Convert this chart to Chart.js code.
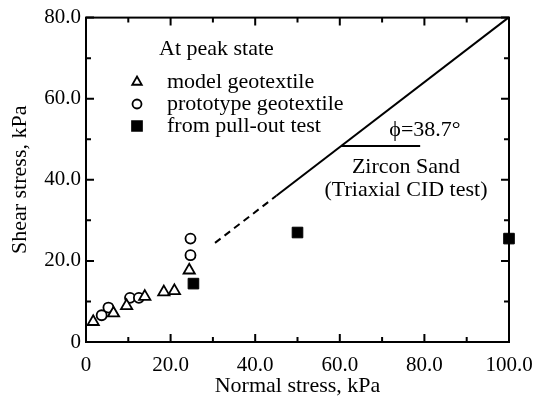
<!DOCTYPE html>
<html>
<head>
<meta charset="utf-8">
<script src="https://cdn.jsdelivr.net/npm/chart.js@4.4.0/dist/chart.umd.min.js"></script>
<style>
  html, body { margin: 0; padding: 0; background: #fff; }
  #wrap { width: 549px; height: 399px; }
</style>
</head>
<body>
<div id="wrap"><canvas id="shearChart"></canvas></div>
<script>
// Peak shear strength data (normal stress kPa, shear stress kPa)
const modelX = [1.7, 6.5, 9.6, 13.9, 18.4, 20.9, 24.4];
const modelY = [5.0, 7.1, 8.9, 11.2, 12.3, 12.6, 17.7];
const protoX = [3.7, 5.3, 10.4, 12.5, 24.7, 24.7];
const protoY = [6.6, 8.5, 10.9, 10.9, 21.4, 25.5];
const pullX = [25.4, 50.0, 100.0];
const pullY = [14.4, 27.0, 25.5];

// Zircon sand failure envelope, phi = 38.7 deg
const phi = 38.7;
const envDashX = [30.5, 45.0];
const envSolidX = [45.0, 100.0];
const phiMarkX = [60.3, 79.0];

const xTicks = [0, 20, 40, 60, 80, 100];
const yTicks = [0, 20, 40, 60, 80];

const tanPhi = Math.tan(phi * Math.PI / 180);
const pts = (xs, ys) => xs.map((x, i) => ({ x: x, y: ys[i] }));
const envelope = xs => xs.map(x => ({ x: x, y: x * tanPhi }));

const FONT = '"Liberation Serif", "DejaVu Serif", serif';

// frame, inward ticks on all four sides, legend block and annotations
const decorPlugin = {
    id: 'decor',
    afterDraw(chart) {
        const ctx = chart.ctx;
        const xs = chart.scales.x, ys = chart.scales.y;
        const a = chart.chartArea;
        ctx.save();
        ctx.strokeStyle = '#000';
        ctx.lineWidth = 2;
        ctx.strokeRect(a.left, a.top, a.right - a.left, a.bottom - a.top);
        for (let v = 0; v <= 100; v += 10) {
            const px = xs.getPixelForValue(v);
            const len = v % 20 === 0 ? 8 : 5;
            ctx.beginPath();
            ctx.moveTo(px, a.bottom); ctx.lineTo(px, a.bottom - len);
            ctx.moveTo(px, a.top); ctx.lineTo(px, a.top + len);
            ctx.stroke();
        }
        for (let v = 0; v <= 80; v += 10) {
            const py = ys.getPixelForValue(v);
            const len = v % 20 === 0 ? 8 : 5;
            ctx.beginPath();
            ctx.moveTo(a.left, py); ctx.lineTo(a.left + len, py);
            ctx.moveTo(a.right, py); ctx.lineTo(a.right - len, py);
            ctx.stroke();
        }

        // legend
        ctx.fillStyle = '#000';
        ctx.font = '22px ' + FONT;
        ctx.textBaseline = 'middle';
        ctx.textAlign = 'left';
        ctx.fillText('At peak state', 159, 49);
        const items = ['model geotextile', 'prototype geotextile', 'from pull-out test'];
        const styles = ['triangle', 'circle', 'rect'];
        const radii = [5.5, 4.5, 7];
        items.forEach((t, i) => {
            const y = 82 + i * 22;
            ctx.fillStyle = '#000';
            ctx.fillText(t, 167, y);
            ctx.lineWidth = 1.8;
            ctx.strokeStyle = '#000';
            ctx.fillStyle = styles[i] === 'rect' ? '#000' : '#fff';
            Chart.helpers.drawPoint(ctx, { pointStyle: styles[i], radius: radii[i], borderWidth: 1.8 }, 137, y);
        });

        // envelope annotation
        ctx.fillStyle = '#000';
        ctx.textAlign = 'center';
        ctx.font = '22px ' + FONT;
        ctx.fillText('\u03d5=38.7\u00b0', 425, 130);
        ctx.fillText('Zircon Sand', 406, 167);
        ctx.fillText('(Triaxial CID test)', 406, 190);
        ctx.restore();
    }
};

new Chart(document.getElementById('shearChart'), {
    type: 'scatter',
    data: {
        datasets: [
            {
                label: 'model geotextile',
                data: pts(modelX, modelY),
                pointStyle: 'triangle',
                pointRadius: 6.5,
                backgroundColor: '#fff',
                borderColor: '#000',
                borderWidth: 1.8,
                clip: false
            },
            {
                label: 'prototype geotextile',
                data: pts(protoX, protoY),
                pointStyle: 'circle',
                pointRadius: 5,
                backgroundColor: '#fff',
                borderColor: '#000',
                borderWidth: 1.8,
                clip: false
            },
            {
                label: 'from pull-out test',
                data: pts(pullX, pullY),
                pointStyle: 'rect',
                pointRadius: 7.5,
                backgroundColor: '#000',
                borderColor: '#000',
                borderWidth: 1,
                clip: false
            },
            {
                label: 'envelope (extrapolated)',
                data: envelope(envDashX),
                showLine: true,
                pointRadius: 0,
                borderColor: '#000',
                borderWidth: 2,
                borderDash: [7, 5]
            },
            {
                label: 'envelope',
                data: envelope(envSolidX),
                showLine: true,
                pointRadius: 0,
                borderColor: '#000',
                borderWidth: 2
            },
            {
                label: 'phi marker',
                data: phiMarkX.map(x => ({ x: x, y: 60.3 * tanPhi })),
                showLine: true,
                pointRadius: 0,
                borderColor: '#000',
                borderWidth: 2
            }
        ]
    },
    options: {
        responsive: true,
        maintainAspectRatio: false,
        animation: false,
        layout: { padding: { top: 17, right: 40, left: 0, bottom: 0 } },
        plugins: {
            legend: { display: false },
            tooltip: { enabled: false }
        },
        scales: {
            x: {
                type: 'linear',
                min: 0,
                max: 100,
                afterBuildTicks: s => { s.ticks = xTicks.map(v => ({ value: v })); },
                afterFit: s => { s.height = 57; },
                grid: { display: false, drawTicks: false },
                border: { display: false },
                ticks: {
                    color: '#000',
                    font: { family: FONT, size: 21 },
                    padding: 11,
                    maxRotation: 0,
                    callback: v => v === 0 ? '0' : v.toFixed(1)
                },
                title: {
                    display: true,
                    text: 'Normal stress, kPa',
                    color: '#000',
                    font: { family: FONT, size: 22 },
                    padding: { top: 0, bottom: 0 }
                }
            },
            y: {
                type: 'linear',
                min: 0,
                max: 80,
                afterBuildTicks: s => { s.ticks = yTicks.map(v => ({ value: v })); },
                afterFit: s => { s.width = 86; },
                grid: { display: false, drawTicks: false },
                border: { display: false },
                ticks: {
                    color: '#000',
                    font: { family: FONT, size: 21 },
                    padding: 5,
                    callback: v => v === 0 ? '0' : v.toFixed(1)
                },
                title: {
                    display: true,
                    text: 'Shear stress, kPa',
                    color: '#000',
                    font: { family: FONT, size: 22 },
                    padding: { top: 7, bottom: 4 }
                }
            }
        }
    },
    plugins: [decorPlugin]
});
</script>
</body>
</html>
